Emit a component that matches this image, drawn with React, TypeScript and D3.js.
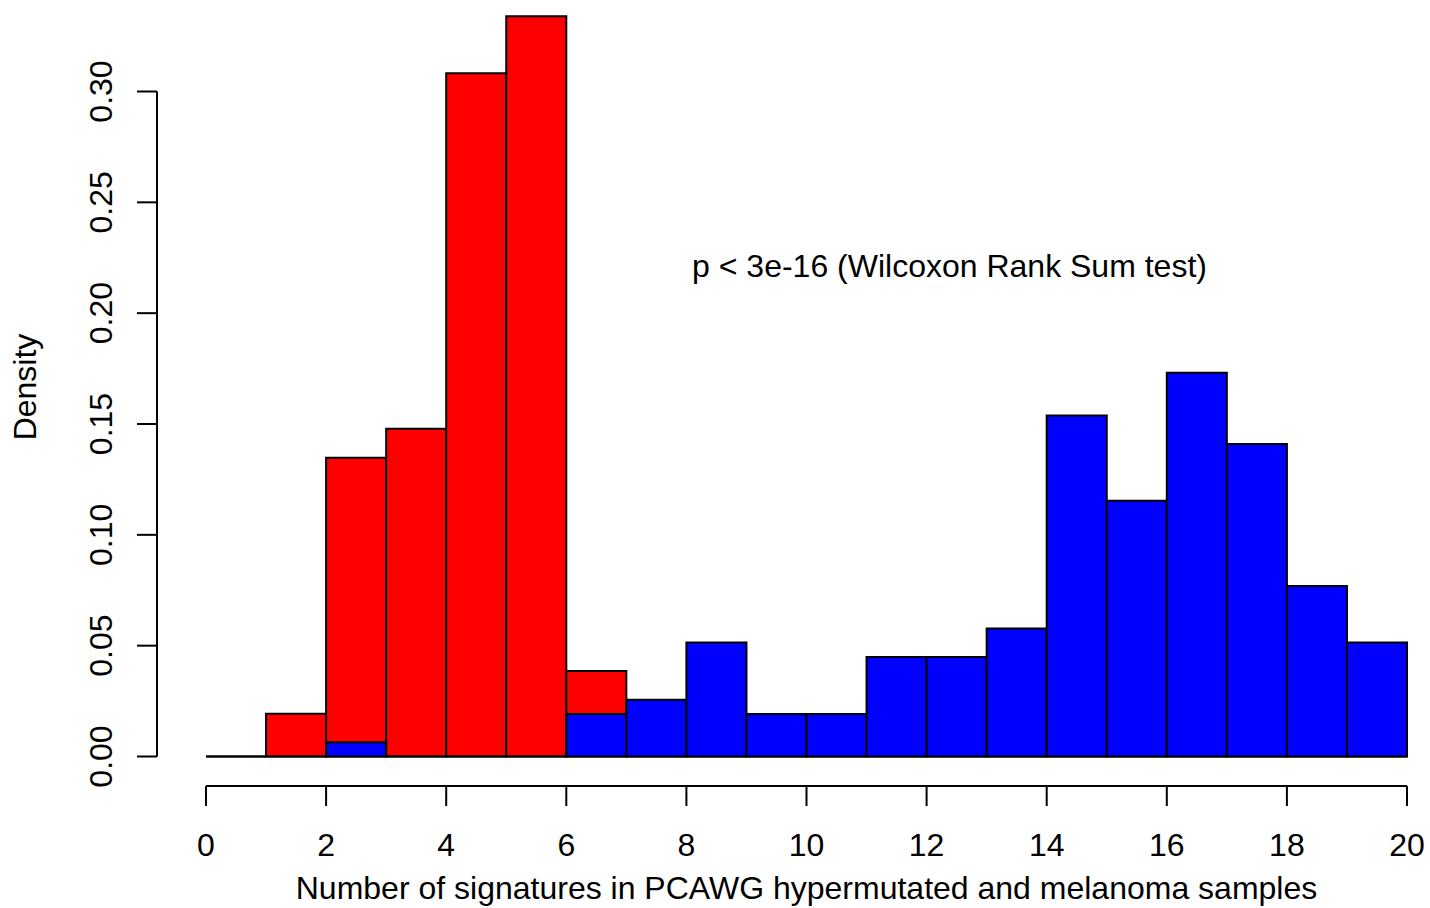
import React, { useEffect, useRef } from "react";
import * as d3 from "d3";

// histogram bins (lower edges, width 1)
const binStarts = [0, 1, 2, 3, 4, 5, 6, 7, 8, 9, 10, 11, 12, 13, 14, 15, 16, 17, 18, 19];
// red: first histogram, densities
const redDensity = [
  0, 0.0193, 0.1348, 0.1479, 0.3082, 0.334, 0.0386, 0, 0, 0, 0, 0, 0, 0, 0, 0, 0, 0, 0, 0,
];
// blue: added on top
const blueDensity = [
  0, 0, 0.0064, 0, 0, 0, 0.0192, 0.0256, 0.0514, 0.0192, 0.0192, 0.0449, 0.0449,
  0.0577, 0.1538, 0.1154, 0.1731, 0.141, 0.0769, 0.0514,
];
const xTicks = [0, 2, 4, 6, 8, 10, 12, 14, 16, 18, 20];
const yTicks = [0, 0.05, 0.1, 0.15, 0.2, 0.25, 0.3];

const xTitle = "Number of signatures in PCAWG hypermutated and melanoma samples";
const yTitle = "Density";
const note = "p < 3e-16 (Wilcoxon Rank Sum test)";

const App = () => {
  const svgRef = useRef(null);

  useEffect(() => {
    const width = 1430;
    const height = 908;
    const font = "'Liberation Sans', Arial, sans-serif";
    const fs = 32;

    const svg = d3.select(svgRef.current);
    svg.selectAll("*").remove();

    const x = d3.scaleLinear().domain([0, 20]).range([206, 1407]);
    const y = d3.scaleLinear().domain([0, 0.3]).range([756.5, 91.5]);

    // paths instead of rects so empty bins still show their flat outline
    const drawBars = (vals, color) => {
      svg.append("g")
        .selectAll("path")
        .data(vals)
        .enter()
        .append("path")
        .attr("d", (d, i) => {
          const x0 = x(binStarts[i]);
          const x1 = x(binStarts[i] + 1);
          const p = d3.path();
          p.moveTo(x0, y(0));
          p.lineTo(x0, y(d));
          p.lineTo(x1, y(d));
          p.lineTo(x1, y(0));
          p.closePath();
          return p.toString();
        })
        .attr("fill", color)
        .attr("stroke", "black")
        .attr("stroke-width", 2);
    };

    drawBars(redDensity, "#ff0000");
    drawBars(blueDensity, "#0000ff");

    // x axis, R style: offset below the bars
    const xAxis = svg.append("g");
    xAxis.append("line")
      .attr("x1", x(0)).attr("x2", x(20))
      .attr("y1", 786).attr("y2", 786)
      .attr("stroke", "black").attr("stroke-width", 2);
    xAxis.selectAll("line.tick")
      .data(xTicks)
      .enter()
      .append("line")
      .attr("class", "tick")
      .attr("x1", d => x(d)).attr("x2", d => x(d))
      .attr("y1", 786).attr("y2", 806)
      .attr("stroke", "black").attr("stroke-width", 2);
    xAxis.selectAll("text")
      .data(xTicks)
      .enter()
      .append("text")
      .attr("x", d => x(d))
      .attr("y", 856)
      .attr("text-anchor", "middle")
      .attr("font-family", font)
      .attr("font-size", fs)
      .text(d => d);

    // y axis
    const yAxis = svg.append("g");
    yAxis.append("line")
      .attr("x1", 157).attr("x2", 157)
      .attr("y1", y(0)).attr("y2", y(0.3))
      .attr("stroke", "black").attr("stroke-width", 2);
    yAxis.selectAll("line.tick")
      .data(yTicks)
      .enter()
      .append("line")
      .attr("class", "tick")
      .attr("x1", 137).attr("x2", 157)
      .attr("y1", d => y(d)).attr("y2", d => y(d))
      .attr("stroke", "black").attr("stroke-width", 2);
    yAxis.selectAll("text")
      .data(yTicks)
      .enter()
      .append("text")
      .attr("transform", d => `translate(112,${y(d)}) rotate(-90)`)
      .attr("text-anchor", "middle")
      .attr("font-family", font)
      .attr("font-size", fs)
      .text(d => d3.format(".2f")(d));

    // titles
    svg.append("text")
      .attr("x", (x(0) + x(20)) / 2)
      .attr("y", 899)
      .attr("text-anchor", "middle")
      .attr("font-family", font)
      .attr("font-size", fs)
      .text(xTitle);

    svg.append("text")
      .attr("transform", `translate(36,${(y(0) + y(0.3)) / 2 - 37}) rotate(-90)`)
      .attr("text-anchor", "middle")
      .attr("font-family", font)
      .attr("font-size", fs)
      .text(yTitle);

    svg.append("text")
      .attr("x", 949.5)
      .attr("y", 277)
      .attr("text-anchor", "middle")
      .attr("font-family", font)
      .attr("font-size", fs)
      .text(note);

    svg.attr("width", width).attr("height", height);
  }, []);

  return (
    <div style={{ position: "absolute", left: 0, top: 0 }}>
      <svg ref={svgRef} style={{ display: "block", background: "white" }}></svg>
    </div>
  );
};

export default App;
